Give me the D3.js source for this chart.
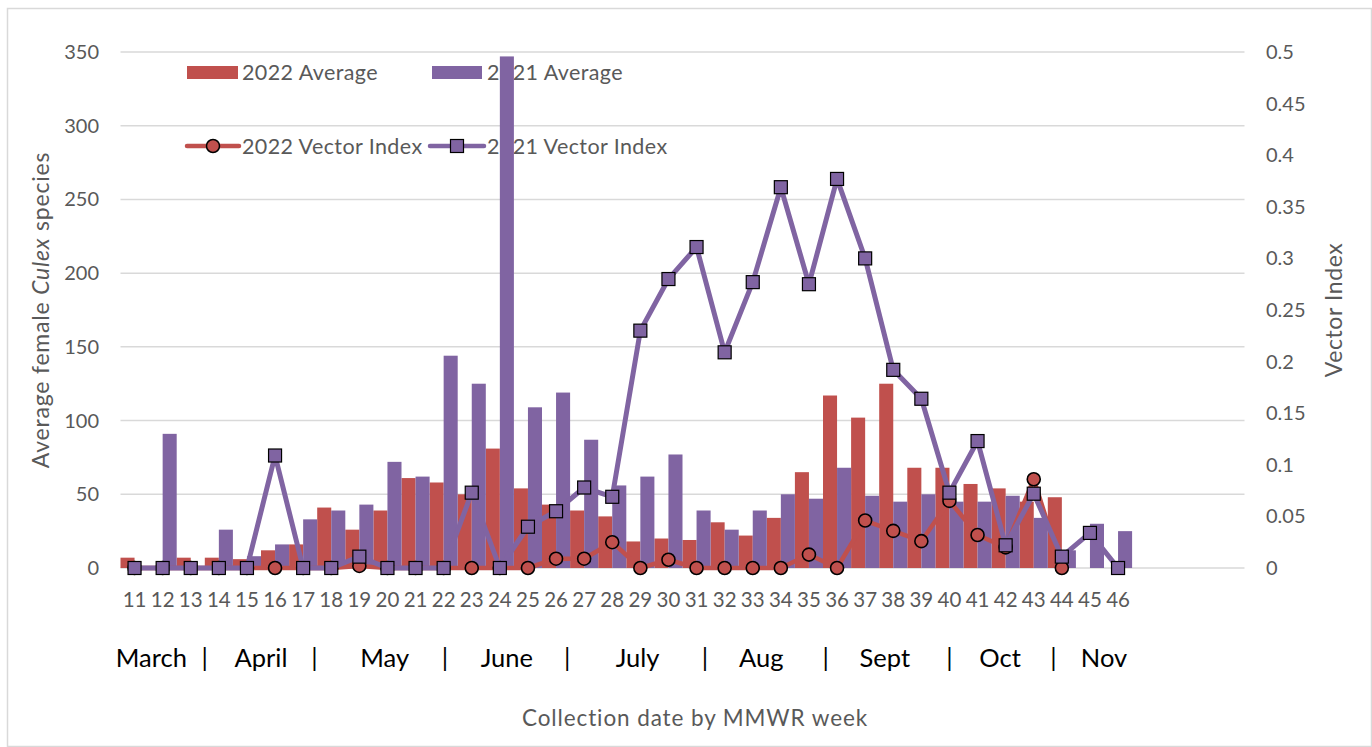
<!DOCTYPE html>
<html>
<head>
<meta charset="utf-8">
<script src="https://cdn.jsdelivr.net/npm/d3@7"></script>
<style>
  body { margin: 0; background: #fff; }
  svg { font-family: Lato, "Open Sans", sans-serif; }
</style>
</head>
<body>
<svg id="chart" width="1372" height="747"></svg>
<script>
// MMWR weeks shown on the axis (the axis keeps 4 more empty slots on the right)
const weeks = [11,12,13,14,15,16,17,18,19,20,21,22,23,24,25,26,27,28,29,30,31,32,33,34,35,36,37,38,39,40,41,42,43,44,45,46];
const emptySlots = [47, 48, 49, 50];

const avg2022 = [7,0,7,7,6,12,16,41,26,39,61,58,50,81,54,43,39,35,18,20,19,31,22,34,65,117,102,125,68,68,57,54,45,48,null,null];
const avg2021 = [0,91,0,26,8,16,33,39,43,72,62,144,125,347,109,119,87,56,62,77,39,26,39,50,47,68,49,45,50,45,45,49,34,12,30,25];
const vi2022 = [0,0,0,0,0,0,0,0,0.002,0,0,0,0,0,0,0.009,0.009,0.025,0,0.008,0,0,0,0,0.013,0,0.046,0.036,0.026,0.065,0.032,0.02,0.086,0,null,null];
const vi2021 = [0,0,0,0,0,0.109,0,0,0.011,0,0,0,0.073,0,0.04,0.055,0.078,0.069,0.23,0.28,0.311,0.209,0.277,0.369,0.275,0.377,0.30,0.192,0.164,0.073,0.123,0.022,0.072,0.011,0.034,0];

const leftTicks = [0,50,100,150,200,250,300,350];
const rightTicks = [0,0.05,0.1,0.15,0.2,0.25,0.3,0.35,0.4,0.45,0.5];

// month strip under the week numbers, placed by week position
const monthLabels = [
  {t: "March", w: 11.6}, {t: "|", w: 13.5},
  {t: "April", w: 15.5}, {t: "|", w: 17.4},
  {t: "May", w: 19.9}, {t: "|", w: 22.05},
  {t: "June", w: 24.25}, {t: "|", w: 26.4},
  {t: "July", w: 28.9}, {t: "|", w: 31.3},
  {t: "Aug", w: 33.3}, {t: "|", w: 35.6},
  {t: "Sept", w: 37.7}, {t: "|", w: 40.0},
  {t: "Oct", w: 41.8}, {t: "|", w: 43.7},
  {t: "Nov", w: 45.5}
];

const red = "#C0504D", purple = "#8064A2", grid = "#D9D9D9", txt = "#595959";

const svg = d3.select("svg#chart");

const margin = {left: 120.5, right: 127.5, top: 52, bottom: 179};
const W = 1372, H = 747;

const x = d3.scaleBand()
  .domain(weeks.concat(emptySlots))
  .range([margin.left, W - margin.right])
  .paddingInner(0).paddingOuter(0);

const y = d3.scaleLinear().domain([0, 350]).range([H - margin.bottom, margin.top]);
const y2 = d3.scaleLinear().domain([0, 0.5]).range([H - margin.bottom, margin.top]);

const bw = x.bandwidth() / 2;

// outer frame
svg.append("rect")
  .attr("x", 7.5).attr("y", 8.5)
  .attr("width", W - 8).attr("height", H - 9)
  .attr("fill", "none").attr("stroke", grid).attr("stroke-width", 1.5);

// gridlines
svg.append("g").selectAll("line")
  .data(leftTicks)
  .join("line")
  .attr("x1", margin.left).attr("x2", W - margin.right)
  .attr("y1", d => y(d)).attr("y2", d => y(d))
  .attr("stroke", grid).attr("stroke-width", 1.5);

// left axis labels
svg.append("g").selectAll("text")
  .data(leftTicks)
  .join("text")
  .attr("x", 99).attr("y", d => y(d))
  .attr("dy", "0.35em")
  .attr("text-anchor", "end")
  .attr("fill", txt).attr("font-size", 20)
  .text(d => d);

// right axis labels
svg.append("g").selectAll("text")
  .data(rightTicks)
  .join("text")
  .attr("x", 1266).attr("y", d => y2(d))
  .attr("dy", "0.35em")
  .attr("fill", txt).attr("font-size", 20)
  .text(d => d);

// axis titles
const lt = svg.append("text")
  .attr("transform", `translate(49,${(y(0) + y(350)) / 2}) rotate(-90)`)
  .attr("text-anchor", "middle")
  .attr("fill", txt).attr("font-size", 23).attr("letter-spacing", 0.8);
lt.append("tspan").text("Average female ");
lt.append("tspan").attr("font-style", "italic").text("Culex");
lt.append("tspan").text(" species");

svg.append("text")
  .attr("transform", `translate(1342,${(y(0) + y(350)) / 2}) rotate(-90)`)
  .attr("text-anchor", "middle")
  .attr("fill", txt).attr("font-size", 23).attr("letter-spacing", 0.6)
  .text("Vector Index");

// week tick labels
svg.append("g").selectAll("text")
  .data(weeks)
  .join("text")
  .attr("x", d => x(d) + x.bandwidth() / 2)
  .attr("y", 607)
  .attr("text-anchor", "middle")
  .attr("fill", txt).attr("font-size", 20.5)
  .text(d => d);

// month strip
const wx = d3.scaleLinear().domain([11, 12]).range([x(11) + bw, x(12) + bw]);
svg.append("g").selectAll("text")
  .data(monthLabels)
  .join("text")
  .attr("x", d => wx(d.w))
  .attr("y", 667)
  .attr("text-anchor", "middle")
  .attr("fill", "#000").attr("font-size", 25.5)
  .text(d => d.t);

svg.append("text")
  .attr("x", 695).attr("y", 726)
  .attr("text-anchor", "middle")
  .attr("fill", txt).attr("font-size", 22.5).attr("letter-spacing", 0.9)
  .text("Collection date by MMWR week");

// legend (drawn under the bars, as in the original)
const leg = svg.append("g").attr("font-size", 21.5).attr("fill", txt).attr("letter-spacing", 0.4);
leg.append("rect").attr("x", 187).attr("y", 66).attr("width", 51).attr("height", 13).attr("fill", red);
leg.append("text").attr("x", 242).attr("y", 72).attr("dy", "0.35em").text("2022 Average");
leg.append("rect").attr("x", 432).attr("y", 66).attr("width", 50).attr("height", 13).attr("fill", purple);
leg.append("text").attr("x", 487).attr("y", 72).attr("dy", "0.35em").text("2021 Average");

leg.append("line").attr("x1", 187).attr("x2", 239).attr("y1", 146).attr("y2", 146)
  .attr("stroke", red).attr("stroke-width", 4.5).attr("stroke-linecap", "round");
leg.append("circle").attr("cx", 213).attr("cy", 146).attr("r", 6.5)
  .attr("fill", red).attr("stroke", "#000").attr("stroke-width", 1.5);
leg.append("text").attr("x", 242).attr("y", 146).attr("dy", "0.35em").text("2022 Vector Index");
leg.append("line").attr("x1", 430).attr("x2", 484).attr("y1", 146).attr("y2", 146)
  .attr("stroke", purple).attr("stroke-width", 4.5).attr("stroke-linecap", "round");
leg.append("rect").attr("x", 450.5).attr("y", 139.5).attr("width", 13).attr("height", 13)
  .attr("fill", purple).attr("stroke", "#000").attr("stroke-width", 1.2);
leg.append("text").attr("x", 487).attr("y", 146).attr("dy", "0.35em").text("2021 Vector Index");

// bars
const rows = weeks.map((w, i) => ({w, a22: avg2022[i], a21: avg2021[i], v22: vi2022[i], v21: vi2021[i]}));

svg.append("g").selectAll("rect")
  .data(rows.filter(d => d.a22 != null))
  .join("rect")
  .attr("x", d => x(d.w))
  .attr("y", d => y(d.a22))
  .attr("width", bw)
  .attr("height", d => y(0) - y(d.a22))
  .attr("fill", red);

svg.append("g").selectAll("rect")
  .data(rows.filter(d => d.a21 != null))
  .join("rect")
  .attr("x", d => x(d.w) + bw)
  .attr("y", d => y(d.a21))
  .attr("width", bw)
  .attr("height", d => y(0) - y(d.a21))
  .attr("fill", purple);

// vector index lines
const cx = d => x(d.w) + x.bandwidth() / 2;

const line22 = d3.line().defined(d => d.v22 != null).x(cx).y(d => y2(d.v22));
const line21 = d3.line().defined(d => d.v21 != null).x(cx).y(d => y2(d.v21));

svg.append("path").datum(rows)
  .attr("d", line22)
  .attr("fill", "none").attr("stroke", red).attr("stroke-width", 4.5)
  .attr("stroke-linejoin", "round");

svg.append("g").selectAll("circle")
  .data(rows.filter(d => d.v22 != null))
  .join("circle")
  .attr("cx", cx).attr("cy", d => y2(d.v22))
  .attr("r", 6.5)
  .attr("fill", red).attr("stroke", "#000").attr("stroke-width", 1.6);

svg.append("path").datum(rows)
  .attr("d", line21)
  .attr("fill", "none").attr("stroke", purple).attr("stroke-width", 5)
  .attr("stroke-linejoin", "round");

svg.append("g").selectAll("rect")
  .data(rows.filter(d => d.v21 != null))
  .join("rect")
  .attr("x", d => cx(d) - 6.5).attr("y", d => y2(d.v21) - 6.5)
  .attr("width", 13).attr("height", 13)
  .attr("fill", purple).attr("stroke", "#000").attr("stroke-width", 1.2);
</script>
</body>
</html>
